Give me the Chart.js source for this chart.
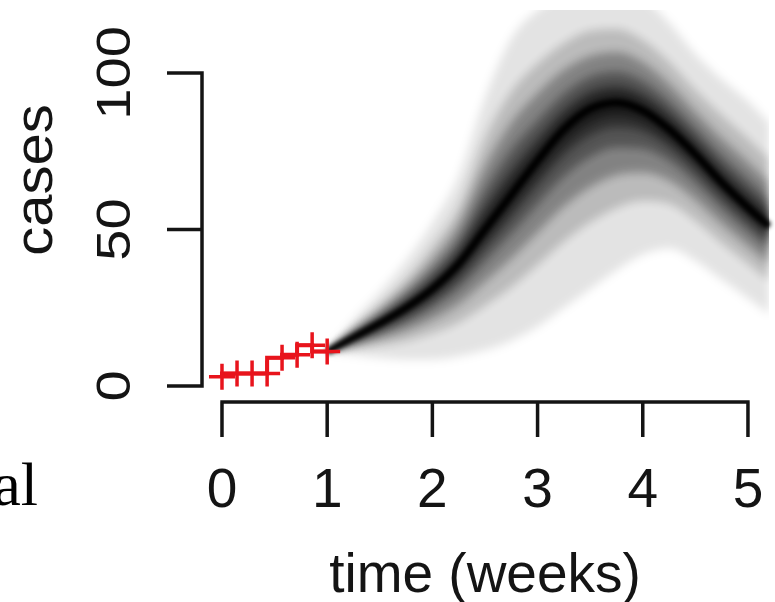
<!DOCTYPE html>
<html>
<head>
<meta charset="utf-8">
<script src="https://cdn.jsdelivr.net/npm/chart.js@4/dist/chart.umd.min.js"></script>
<style>
  html, body { margin: 0; padding: 0; background: #fff; }
  #wrap { width: 775px; height: 602px; }
</style>
</head>
<body>
<div id="wrap"><canvas id="fanChart" width="775" height="602"></canvas></div>
<script>
// observed daily cases (red crosses), time in weeks
const obsWeeks = [0, 0.143, 0.286, 0.429, 0.571, 0.714, 0.857, 1];
const obsCases = [3, 4, 4, 4, 9, 10, 13, 11];

// forecast time points (weeks)
const weeks = [1, 1.25, 1.5, 1.75, 2, 2.25, 2.5, 2.75, 3, 3.25, 3.5, 3.75, 4, 4.25, 4.5, 4.75, 5, 5.2];

// forecast quantiles of cases
const q01 = [11, 10.0, 9.0, 8.5, 8.5, 9.5, 11.5, 14.5, 19, 25, 31, 37, 42, 44, 40, 34, 28, 23];
const q04 = [11, 12.0, 13.0, 14.4, 16.9, 20.4, 25.7, 31.6, 38.7, 46.2, 52.3, 56.9, 59.2, 58.3, 52.9, 45.8, 39.1, 33.7];
const q10 = [11, 13.1, 15.2, 17.7, 21.3, 26.2, 33.3, 40.8, 49.1, 57.4, 63.6, 67.4, 68.2, 65.7, 59.5, 51.8, 44.7, 39.1];
const q20 = [11, 14.0, 17.0, 20.5, 25.1, 31.2, 39.7, 48.6, 58.0, 66.9, 73.2, 76.3, 75.9, 72.0, 65.1, 56.9, 49.4, 43.7];
const q30 = [11, 14.7, 18.4, 22.5, 27.7, 34.7, 44.3, 54.1, 64.2, 73.6, 80.0, 82.6, 81.3, 76.5, 69.1, 60.5, 52.8, 47.0];
const q40 = [11, 15.1, 19.2, 23.8, 29.5, 37.0, 47.3, 57.8, 68.4, 78.1, 84.5, 86.8, 84.9, 79.4, 71.7, 62.9, 55.0, 49.1];
const q50 = [11, 15.5, 20, 25, 31, 39, 50, 61, 72, 82, 88.5, 90.5, 88, 82, 74, 65, 57, 51];
const q60 = [11, 15.8, 20.6, 25.8, 32.2, 40.8, 53.2, 64.8, 75.2, 84.9, 91.2, 93.1, 90.5, 84.3, 76.2, 67.2, 59.3, 53.2];
const q70 = [11, 16.2, 21.2, 27.0, 34.0, 43.2, 57.0, 69.0, 79.2, 88.3, 94.3, 96.0, 93.3, 87.0, 78.7, 69.8, 62.0, 55.8];
const q80 = [11, 16.8, 22.5, 28.8, 36.6, 46.5, 62.5, 75.5, 85.0, 93.5, 98.9, 100.4, 97.5, 90.9, 82.4, 73.6, 65.9, 59.6];
const q90 = [11, 17.7, 24.0, 31.2, 40.0, 51.5, 70.0, 84.0, 93.5, 101.0, 105.4, 106.6, 103.4, 96.5, 87.6, 79.1, 71.5, 65.1];
const q96 = [11, 18.8, 26.0, 34.0, 44.5, 57.0, 79.0, 94.0, 103.0, 109.5, 113.5, 114.0, 110.5, 103.5, 94.5, 86.5, 79.0, 72.5];
const q99 = [11, 21.0, 30, 40, 52, 67, 92, 111, 120, 125, 128, 128, 124, 116, 106, 98, 91, 84];

// axis ticks
const xTicks = [0, 1, 2, 3, 4, 5];
const yTicks = [0, 50, 100];

// nested fan bands, outermost first: lower edge, upper edge, black alpha
const bandLower = [q01, q04, q10, q20, q30, q40];
const bandUpper = [q99, q96, q90, q80, q70, q60];
const bandAlpha = [0.11, 0.18, 0.30, 0.36, 0.44, 0.56];

const FONT = '"Liberation Sans", Arial, sans-serif';
const INK = '#141414';

function toPoints(xs, ys) {
    return xs.map((x, i) => ({ x: x, y: ys[i] }));
}

const datasets = [
    {
        label: 'observed',
        data: toPoints(obsWeeks, obsCases),
        borderColor: '#e8141c',
        borderWidth: 4,
        stepped: 'after',
        pointStyle: 'cross',
        pointRadius: 13,
        pointBorderWidth: 3.5,
        pointBorderColor: '#e8141c',
        fill: false
    },
    {
        label: 'median',
        data: toPoints(weeks, q50),
        borderColor: '#000',
        borderWidth: 7,
        pointRadius: 0,
        cubicInterpolationMode: 'monotone',
        fill: false
    }
];

const firstLower = datasets.length;
bandLower.forEach((level, i) => {
    datasets.push({
        label: 'lower' + i,
        data: toPoints(weeks, level),
        borderWidth: 0,
        borderColor: 'rgba(0,0,0,0)',
        pointRadius: 0,
        cubicInterpolationMode: 'monotone',
        fill: false
    });
});
bandUpper.forEach((level, i) => {
    datasets.push({
        label: 'upper' + i,
        data: toPoints(weeks, level),
        borderWidth: 0,
        borderColor: 'rgba(0,0,0,0)',
        pointRadius: 0,
        cubicInterpolationMode: 'monotone',
        fill: firstLower + i,
        backgroundColor: 'rgba(0,0,0,' + bandAlpha[i] + ')'
    });
});

// soften the fan: blur is on while the filler paints the bands, and a little on the median
const softFan = {
    id: 'softFan',
    beforeDraw(chart) {
        chart.ctx.save();
        chart.ctx.filter = 'blur(5px)';
    },
    beforeDatasetsDraw(chart) {
        chart.ctx.restore();
    },
    beforeDatasetDraw(chart, args) {
        if (args.index === 1) {
            chart.ctx.save();
            chart.ctx.filter = 'blur(2px)';
        }
    },
    afterDatasetDraw(chart, args) {
        if (args.index === 1) {
            chart.ctx.restore();
        }
    }
};

// R-style axes: lines only between the outer ticks, long tick marks, rotated y labels
const rAxes = {
    id: 'rAxes',
    afterDraw(chart) {
        const ctx = chart.ctx;
        const xs = chart.scales.x;
        const ys = chart.scales.y;
        const axisY = 402;
        const axisX = 202;
        const tickLen = 35;

        ctx.save();
        ctx.strokeStyle = INK;
        ctx.fillStyle = INK;
        ctx.lineWidth = 3.5;
        ctx.lineCap = 'butt';

        // x axis
        const x0 = xs.getPixelForValue(xTicks[0]);
        const x1 = xs.getPixelForValue(xTicks[xTicks.length - 1]);
        ctx.beginPath();
        ctx.moveTo(x0 - 1.7, axisY);
        ctx.lineTo(x1 + 1.7, axisY);
        xTicks.forEach(t => {
            const px = xs.getPixelForValue(t);
            ctx.moveTo(px, axisY);
            ctx.lineTo(px, axisY + tickLen);
        });
        ctx.stroke();

        ctx.font = '55px ' + FONT;
        ctx.textAlign = 'center';
        ctx.textBaseline = 'alphabetic';
        xTicks.forEach(t => {
            ctx.fillText(String(t), xs.getPixelForValue(t), 507);
        });
        ctx.fillText('time (weeks)', 485, 592);

        // y axis
        const y0 = ys.getPixelForValue(yTicks[0]);
        const y1 = ys.getPixelForValue(yTicks[yTicks.length - 1]);
        ctx.beginPath();
        ctx.moveTo(axisX, y0 + 1.7);
        ctx.lineTo(axisX, y1 - 1.7);
        yTicks.forEach(t => {
            const py = ys.getPixelForValue(t);
            ctx.moveTo(axisX, py);
            ctx.lineTo(axisX - tickLen, py);
        });
        ctx.stroke();

        yTicks.forEach(t => {
            ctx.save();
            ctx.translate(130, ys.getPixelForValue(t));
            ctx.rotate(-Math.PI / 2);
            ctx.scale(1, 0.85);
            ctx.font = '56px ' + FONT;
            ctx.fillText(String(t), 0, 0);
            ctx.restore();
        });

        ctx.save();
        ctx.translate(52, 180);
        ctx.rotate(-Math.PI / 2);
        ctx.scale(1, 0.88);
        ctx.font = '58px ' + FONT;
        ctx.fillText('cases', 0, 0);
        ctx.restore();

        // fragment of the surrounding document text
        ctx.font = '62px "Liberation Serif", "Times New Roman", serif';
        ctx.textAlign = 'right';
        ctx.fillStyle = '#000';
        ctx.fillText('al', 38, 505);

        ctx.restore();
    }
};

new Chart(document.getElementById('fanChart'), {
    type: 'line',
    data: { datasets: datasets },
    options: {
        responsive: false,
        animation: false,
        layout: { autoPadding: false, padding: { left: 202, right: 0, top: 10, bottom: 200 } },
        plugins: {
            legend: { display: false },
            tooltip: { enabled: false },
            filler: { propagate: false, drawTime: 'beforeDatasetsDraw' }
        },
        scales: {
            x: { type: 'linear', display: false, min: -0.19, max: 5.257 },
            y: { type: 'linear', display: false, min: -5.1, max: 120.1 }
        }
    },
    plugins: [softFan, rAxes]
});
</script>
</body>
</html>
